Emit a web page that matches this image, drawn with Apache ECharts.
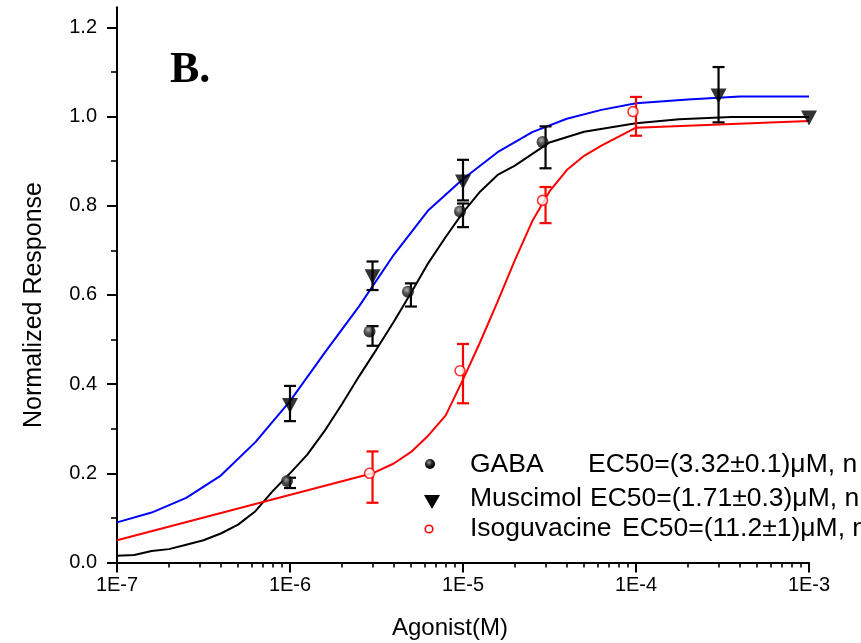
<!DOCTYPE html>
<html><head><meta charset="utf-8">
<script src="https://cdn.jsdelivr.net/npm/echarts@6/dist/echarts.min.js"></script>
<style>html,body{margin:0;padding:0;background:#fff}#c{width:861px;height:643px}</style>
</head><body><div id="c"></div>
<script>
// ---- tick labels ----
const xTickExp = [-7, -6, -5, -4, -3];
const xTickLabels = ['1E-7', '1E-6', '1E-5', '1E-4', '1E-3'];
const yTickValues = [0, 0.2, 0.4, 0.6, 0.8, 1.0, 1.2];
const yMinorValues = [0.1, 0.3, 0.5, 0.7, 0.9, 1.1];

// ---- GABA (filled circles) ----
const gabaConc = [1e-6, 3e-6, 5e-6, 1e-5, 3e-5];
const gabaResp = [0.183, 0.518, 0.607, 0.787, 0.943];
const gabaLow  = [0.167, 0.486, 0.574, 0.752, 0.884];
const gabaHigh = [0.190, 0.530, 0.626, 0.805, 0.978];

// ---- Muscimol (down triangles) ----
const muscConc = [1e-6, 3e-6, 1e-5, 3e-4, 1e-3];
const muscResp = [0.352, 0.641, 0.853, 1.046, 0.997];
const muscLow  = [0.317, 0.611, 0.812, 0.987, 0.997];
const muscHigh = [0.396, 0.675, 0.903, 1.111, 0.997];

// ---- Isoguvacine (open circles) ----
const isoConc = [3e-6, 1e-5, 3e-5, 1e-4];
const isoResp = [0.200, 0.430, 0.812, 1.011];
const isoLow  = [0.134, 0.357, 0.761, 0.957];
const isoHigh = [0.249, 0.490, 0.842, 1.044];

// ---- fitted curves (log10 concentration, response) ----
const muscFitLogC = [-7.0, -6.8, -6.6, -6.4, -6.2, -6.0, -5.8, -5.6, -5.4, -5.2, -5.0, -4.8, -4.6, -4.4, -4.2, -4.0, -3.7, -3.4, -3.0];
const muscFitResp = [0.090, 0.112, 0.145, 0.195, 0.270, 0.362, 0.470, 0.575, 0.690, 0.790, 0.860, 0.920, 0.965, 0.995, 1.015, 1.030, 1.038, 1.045, 1.045];

const gabaFitLogC = [-7.0, -6.9, -6.8, -6.7, -6.6, -6.5, -6.4, -6.3, -6.2, -6.1, -6.0, -5.9, -5.8, -5.7, -5.6, -5.5, -5.4, -5.3, -5.2, -5.1, -5.0, -4.9, -4.8, -4.7, -4.5, -4.3, -4.0, -3.75, -3.45, -3.0];
const gabaFitResp = [0.015, 0.017, 0.026, 0.030, 0.040, 0.050, 0.065, 0.085, 0.115, 0.160, 0.200, 0.242, 0.295, 0.355, 0.418, 0.478, 0.540, 0.605, 0.672, 0.730, 0.785, 0.832, 0.869, 0.890, 0.942, 0.966, 0.985, 0.994, 0.999, 0.999];

const isoFitLogC = [-7.0, -5.523, -5.4, -5.3, -5.2, -5.1, -5.0, -4.9, -4.8, -4.7, -4.6, -4.5, -4.4, -4.3, -4.2, -4.1, -4.0, -3.0];
const isoFitResp = [0.050, 0.200, 0.222, 0.248, 0.285, 0.330, 0.410, 0.495, 0.585, 0.678, 0.765, 0.832, 0.880, 0.912, 0.935, 0.955, 0.975, 0.990];

// ---- legend texts ----
const legendNames = ['GABA', 'Muscimol', 'Isoguvacine'];
const legendEC50 = ['EC50=(3.32±0.1)μM, n', 'EC50=(1.71±0.3)μM, n', 'EC50=(11.2±1)μM, n'];
const panelLabel = 'B.';
const xTitle = 'Agonist(M)';
const yTitle = 'Normalized Response';

// ---- build ----
const L10 = Math.log10;
const pts = (c, r) => c.map((v, i) => [L10(v), r[i]]);
const errs = (c, lo, hi) => c.map((v, i) => [L10(v), lo[i], hi[i]]);
const fit = (lc, r) => lc.map((v, i) => [v, r[i]]);
const xMinor = [];
for (let e = -7; e < -3; e++) for (let k = 2; k <= 9; k++) xMinor.push(L10(k) + e);

const FONT = 'Liberation Sans, Arial, sans-serif';
const LEG = '26.5px ' + FONT;
const grid = { left: 117, right: 52, top: 7.3, bottom: 80.5 };

function errRender(color) {
  return function (params, api) {
    const x = api.value(0), lo = api.value(1), hi = api.value(2);
    if (hi - lo < 1e-6) return null;
    const a = api.coord([x, lo]), b = api.coord([x, hi]);
    const w = 6;
    const st = { stroke: color, lineWidth: 2.2 };
    return {
      type: 'group', children: [
        { type: 'line', shape: { x1: a[0], y1: a[1], x2: b[0], y2: b[1] }, style: st },
        { type: 'line', shape: { x1: a[0] - w, y1: a[1], x2: a[0] + w, y2: a[1] }, style: st },
        { type: 'line', shape: { x1: b[0] - w, y1: b[1], x2: b[0] + w, y2: b[1] }, style: st }
      ]
    };
  };
}

const ball = { type: 'radial', x: 0.4, y: 0.35, r: 0.65, colorStops: [{ offset: 0, color: '#9a9a9a' }, { offset: 0.5, color: '#222' }, { offset: 1, color: '#000' }] };

const chart = echarts.init(document.getElementById('c'), null, { renderer: 'canvas' });
chart.setOption({
  animation: false,
  backgroundColor: '#fff',
  grid: [Object.assign({}, grid), Object.assign({}, grid)],
  xAxis: [
    {
      type: 'value', gridIndex: 0, min: -7, max: -3, interval: 1, position: 'bottom',
      axisLine: { show: true, onZero: false, lineStyle: { color: '#000', width: 2 } },
      axisTick: { show: true, length: 10, customValues: xTickExp, lineStyle: { color: '#000', width: 2 } },
      axisLabel: { customValues: xTickExp, formatter: v => xTickLabels[xTickExp.indexOf(Math.round(v))], fontSize: 20, color: '#000', margin: 13, fontFamily: FONT },
      splitLine: { show: false }
    },
    {
      type: 'value', gridIndex: 1, min: -7, max: -3, position: 'bottom',
      axisLine: { show: false, onZero: false },
      axisTick: { show: true, length: 5, customValues: xMinor, lineStyle: { color: '#000', width: 1.6 } },
      axisLabel: { show: false },
      splitLine: { show: false }
    }
  ],
  yAxis: [
    {
      type: 'value', gridIndex: 0, min: 0, max: 1.245, position: 'left',
      axisLine: { show: true, onZero: false, lineStyle: { color: '#000', width: 2 } },
      axisTick: { show: true, length: 10, customValues: yTickValues, lineStyle: { color: '#000', width: 2 } },
      axisLabel: { customValues: yTickValues, formatter: v => v.toFixed(1), fontSize: 20, color: '#000', margin: 20, fontFamily: FONT },
      splitLine: { show: false }
    },
    {
      type: 'value', gridIndex: 1, min: 0, max: 1.245, position: 'left',
      axisLine: { show: false, onZero: false },
      axisTick: { show: true, length: 6, customValues: yMinorValues, lineStyle: { color: '#000', width: 1.6 } },
      axisLabel: { show: false },
      splitLine: { show: false }
    }
  ],
  series: [
    { name: 'Muscimol fit', type: 'line', data: fit(muscFitLogC, muscFitResp), showSymbol: false, symbol: 'none', lineStyle: { color: '#0000ff', width: 2 }, z: 2 },
    { name: 'GABA fit', type: 'line', data: fit(gabaFitLogC, gabaFitResp), showSymbol: false, symbol: 'none', lineStyle: { color: '#000', width: 2 }, z: 2 },
    { name: 'Isoguvacine fit', type: 'line', data: fit(isoFitLogC, isoFitResp), showSymbol: false, symbol: 'none', lineStyle: { color: '#ff0000', width: 2 }, z: 2 },
    { name: 'GABA err', type: 'custom', data: errs(gabaConc, gabaLow, gabaHigh), renderItem: errRender('#000'), z: 3 },
    { name: 'Muscimol err', type: 'custom', data: errs(muscConc, muscLow, muscHigh), renderItem: errRender('#000'), z: 3 },
    { name: 'Isoguvacine err', type: 'custom', data: errs(isoConc, isoLow, isoHigh), renderItem: errRender('#ff0000'), z: 3 },
    {
      name: 'GABA', type: 'scatter', data: pts(gabaConc, gabaResp), symbol: 'circle', symbolSize: 12, symbolOffset: [-3, 0],
      itemStyle: { color: ball }, z: 4
    },
    {
      name: 'Muscimol', type: 'scatter', data: pts(muscConc, muscResp), symbol: 'triangle', symbolRotate: 180, symbolSize: [16, 15],
      itemStyle: { color: '#000' }, z: 4
    },
    {
      name: 'Isoguvacine', type: 'scatter', data: pts(isoConc, isoResp), symbol: 'circle', symbolSize: 10, symbolOffset: [-3, 0],
      itemStyle: { color: '#fff', borderColor: '#ff0000', borderWidth: 1.6 }, z: 4
    }
  ],
  graphic: [
    { type: 'text', x: 170, y: 71, style: { text: panelLabel, font: 'bold 44px "Liberation Serif", "Times New Roman", serif', fill: '#000', align: 'left', verticalAlign: 'middle' } },
    { type: 'text', x: 450, y: 628, style: { text: xTitle, font: '24px ' + FONT, fill: '#000', align: 'center', verticalAlign: 'middle' } },
    { type: 'text', x: 34, y: 305, rotation: Math.PI / 2, style: { text: yTitle, font: '25px ' + FONT, fill: '#000', align: 'center', verticalAlign: 'middle' } },
    // legend symbols
    { type: 'circle', shape: { cx: 430, cy: 464, r: 5 }, style: { fill: ball } },
    { type: 'polygon', shape: { points: [[424, 495], [440, 495], [432, 509]] }, style: { fill: '#000' } },
    { type: 'circle', shape: { cx: 429, cy: 529, r: 3.8 }, style: { fill: '#fff', stroke: '#ff0000', lineWidth: 1.6 } },
    // legend texts
    { type: 'text', x: 470, y: 465, style: { text: legendNames[0], font: LEG, fill: '#000', align: 'left', verticalAlign: 'middle' } },
    { type: 'text', x: 588, y: 465, style: { text: legendEC50[0], font: LEG, fill: '#000', align: 'left', verticalAlign: 'middle' } },
    { type: 'text', x: 470, y: 499, style: { text: legendNames[1], font: LEG, fill: '#000', align: 'left', verticalAlign: 'middle' } },
    { type: 'text', x: 590, y: 499, style: { text: legendEC50[1], font: LEG, fill: '#000', align: 'left', verticalAlign: 'middle' } },
    { type: 'text', x: 470, y: 529, style: { text: legendNames[2], font: LEG, fill: '#000', align: 'left', verticalAlign: 'middle' } },
    { type: 'text', x: 622, y: 529, style: { text: legendEC50[2], font: LEG, fill: '#000', align: 'left', verticalAlign: 'middle' } }
  ]
});
</script>
</body></html>
